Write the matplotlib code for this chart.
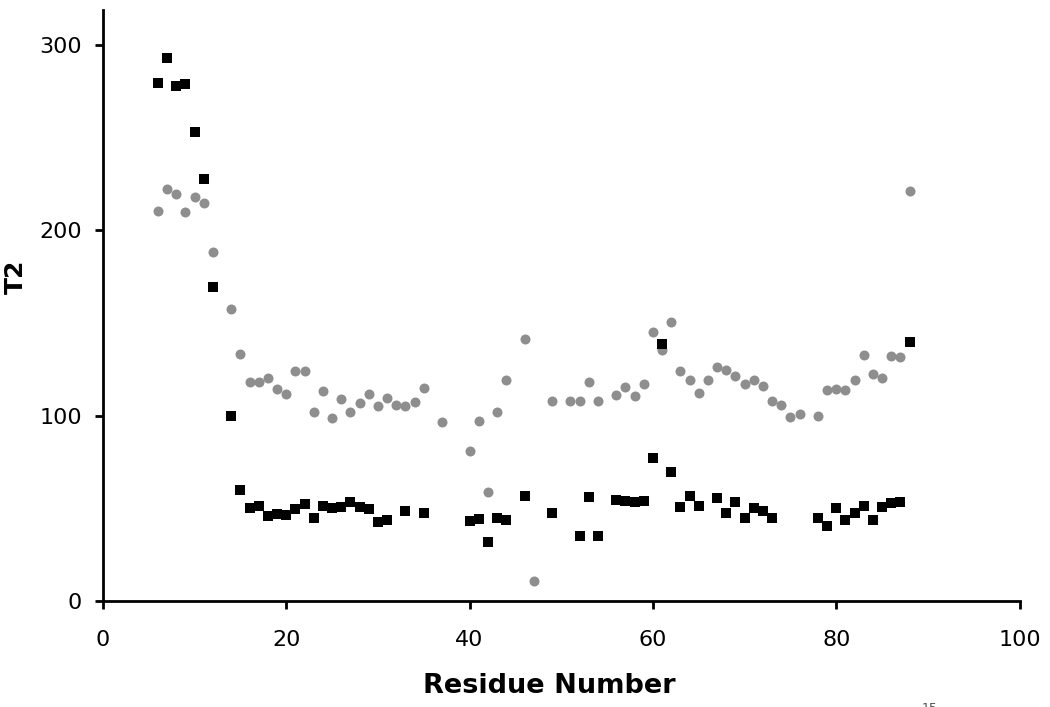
import matplotlib
matplotlib.use("Agg")
import matplotlib.pyplot as plt

# Black squares series
sq_x = [6, 7, 8, 9, 10, 11, 12, 14, 15, 16, 17, 18, 19, 20, 21, 22, 23, 24, 25, 26,
        27, 28, 29, 30, 31, 33, 35, 40, 41, 42, 43, 44, 46, 49, 52, 53, 54, 56, 57, 58,
        59, 60, 61, 62, 63, 64, 65, 67, 68, 69, 70, 71, 72, 73, 78, 79, 80, 81, 82, 83,
        84, 85, 86, 87, 88]
sq_y = [279.7, 293.2, 277.9, 278.8, 253.3, 227.5, 169.3, 99.8, 59.9, 50.4, 51.4, 46.0,
        46.9, 46.4, 49.5, 52.3, 44.6, 51.4, 50.0, 50.9, 53.6, 50.5, 49.6, 42.8, 43.7,
        48.6, 47.3, 43.2, 44.1, 32.0, 44.6, 43.7, 56.8, 47.7, 35.2, 56.0, 35.2, 54.7,
        54.1, 53.2, 54.0, 77.2, 138.9, 69.6, 50.5, 56.5, 51.1, 55.6, 47.7, 53.6, 44.8,
        50.4, 48.6, 44.6, 44.8, 40.5, 50.2, 43.7, 47.5, 51.4, 43.7, 50.7, 52.7, 53.6,
        139.8]

# Gray circles series
ci_x = [6, 7, 8, 9, 10, 11, 12, 14, 15, 16, 17, 18, 19, 20, 21, 22, 23, 24, 25, 26,
        27, 28, 29, 30, 31, 32, 33, 34, 35, 37, 40, 41, 42, 43, 44, 46, 47, 49, 51, 52,
        53, 54, 56, 57, 58, 59, 60, 61, 62, 63, 64, 65, 66, 67, 68, 69, 70, 71, 72, 73,
        74, 75, 76, 78, 79, 80, 81, 82, 83, 84, 85, 86, 87, 88]
ci_y = [210.6, 222.5, 219.8, 210.1, 218.0, 214.6, 188.5, 157.6, 133.3, 118.0, 118.2,
        120.5, 114.4, 111.5, 124.3, 124.3, 101.8, 113.3, 98.6, 109.0, 102.2, 107.0,
        111.5, 105.2, 109.4, 105.8, 105.2, 107.2, 114.8, 96.8, 81.1, 97.1, 59.0, 102.2,
        119.3, 141.4, 10.8, 108.1, 108.0, 108.0, 118.0, 107.9, 111.2, 115.3, 110.6,
        117.1, 145.0, 135.4, 150.5, 124.3, 119.1, 112.1, 119.1, 126.4, 124.7, 121.6,
        117.3, 119.4, 116.2, 107.9, 105.8, 99.4, 100.7, 100.0, 113.7, 114.4, 113.7,
        119.1, 132.6, 122.5, 120.2, 132.2, 131.5, 221.1]

x_ticks = [0, 20, 40, 60, 80, 100]
y_ticks = [0, 100, 200, 300]

plt.rcParams['font.family'] = ['DejaVu Sans']

fig = plt.figure(figsize=(10.5, 7.07), dpi=100)
ax = fig.add_axes([0.098, 0.15, 0.873, 0.836])

ax.scatter(ci_x, ci_y, marker='o', s=7.2**2, color='#8e8e8e', linewidths=0, zorder=3)
ax.scatter(sq_x, sq_y, marker='s', s=7.0**2, color='black', linewidths=0, zorder=4)

ax.set_xlim(0, 100)
ax.set_ylim(0, 319)
ax.set_xticks(x_ticks)
ax.set_yticks(y_ticks)

for side in ['top', 'right']:
    ax.spines[side].set_visible(False)
for side in ['left', 'bottom']:
    ax.spines[side].set_linewidth(2.0)
    ax.spines[side].set_color('black')

ax.tick_params(axis='both', direction='out', length=6, width=2, labelsize=16,
               colors='black')
ax.tick_params(axis='x', pad=15)
ax.tick_params(axis='y', pad=9)

ax.set_xlabel('Residue Number', fontsize=19.5, fontweight='bold')
ax.xaxis.set_label_coords(0.4875, -0.122)
ax.set_ylabel('T2', fontsize=18, fontweight='bold')
ax.yaxis.set_label_coords(-0.082, 0.548)

fig.text(0.878, -0.012, '15', fontsize=9, color='#555555', va='bottom')

fig.savefig('out.png', dpi=100)
